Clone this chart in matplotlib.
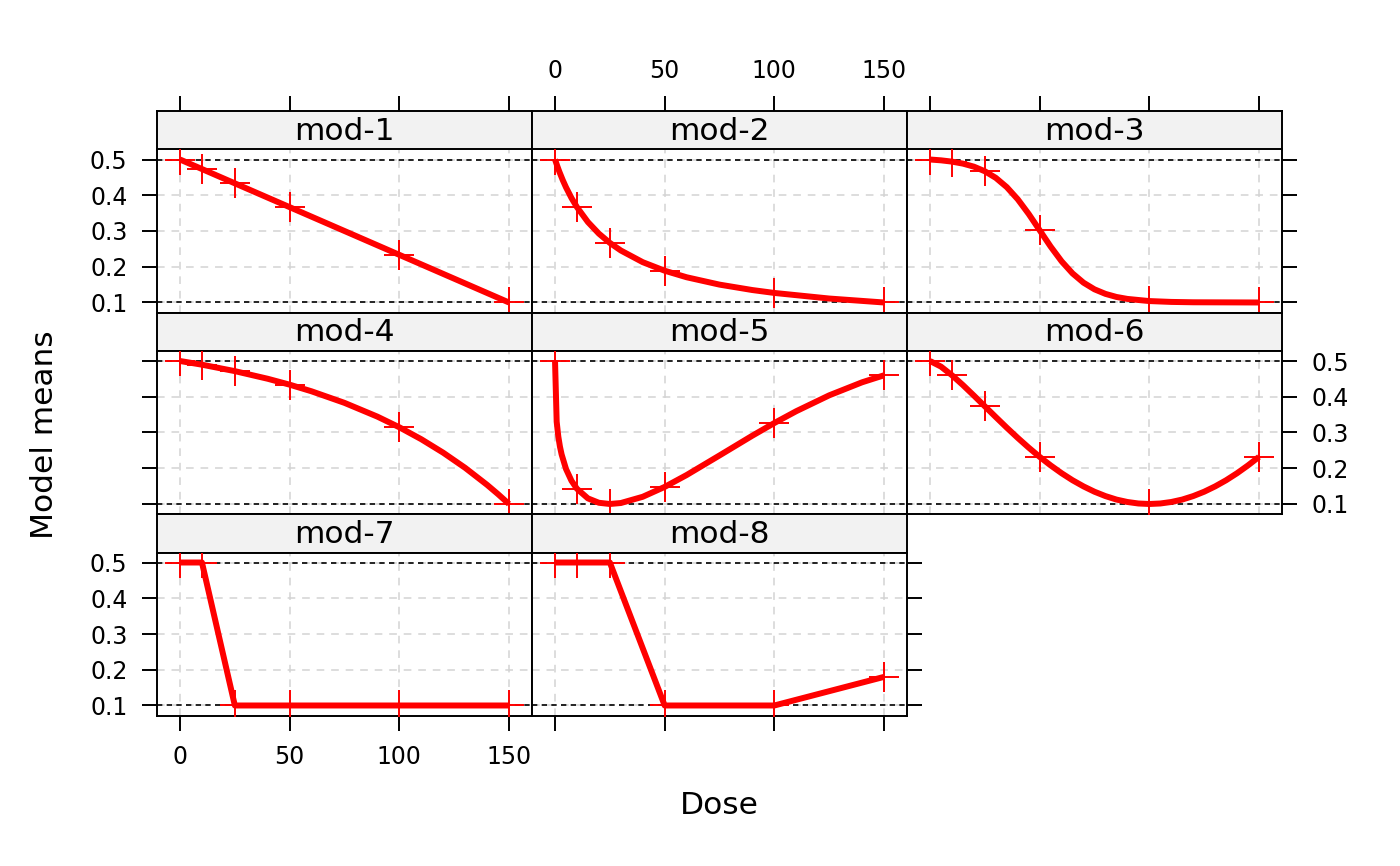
import numpy as np
import matplotlib
matplotlib.use('Agg')
import matplotlib.pyplot as plt

# doses used in the study (marker positions)
doses = [0, 10, 25, 50, 100, 150]

# model means at the study doses
means_mod1 = [0.5, 0.4733, 0.4333, 0.3667, 0.2333, 0.1]
means_mod2 = [0.5, 0.3667, 0.2667, 0.1889, 0.1267, 0.1]
means_mod3 = [0.5, 0.4941, 0.4671, 0.302, 0.104, 0.1]
means_mod4 = [0.5, 0.4897, 0.4717, 0.4338, 0.3146, 0.1]
means_mod5 = [0.5, 0.1425, 0.1, 0.1478, 0.3265, 0.46]
means_mod6 = [0.5, 0.4602, 0.3732, 0.2318, 0.1, 0.2318]
means_mod7 = [0.5, 0.5, 0.1, 0.1, 0.1, 0.1]
means_mod8 = [0.5, 0.5, 0.5, 0.1, 0.1, 0.18]

# the drawn curves, read at more doses
curve_dose_mod1 = [0, 150]
curve_mean_mod1 = [0.5, 0.1]
curve_dose_mod2 = [0, 1, 2, 3.5, 5, 7.5, 10, 15, 20, 25, 30, 40, 50, 60, 75, 90, 100, 125, 150]
curve_mean_mod2 = [0.5, 0.4821, 0.4654, 0.4427, 0.4222, 0.3923, 0.3667, 0.325, 0.2926, 0.2667,
                   0.2455, 0.2128, 0.1889, 0.1706, 0.15, 0.1348, 0.1267, 0.1111, 0.1]
curve_dose_mod3 = [0, 5, 10, 15, 20, 25, 30, 35, 40, 45, 50, 55, 60, 65, 70, 75, 80, 85, 90,
                   100, 110, 120, 150]
curve_mean_mod3 = [0.5, 0.4977, 0.4941, 0.4885, 0.48, 0.4671, 0.4486, 0.4227, 0.3888, 0.3476,
                   0.302, 0.2564, 0.2152, 0.1813, 0.1554, 0.1368, 0.1241, 0.1155, 0.11,
                   0.104, 0.1016, 0.1006, 0.1]
curve_dose_mod4 = [0, 10, 25, 40, 50, 60, 75, 90, 100, 110, 120, 130, 140, 145, 150]
curve_mean_mod4 = [0.5, 0.4897, 0.4717, 0.4503, 0.4338, 0.4152, 0.3829, 0.3444, 0.3146, 0.2812,
                   0.2435, 0.2012, 0.1536, 0.1276, 0.1]
curve_dose_mod5 = [0, 0.75, 1.5, 2.25, 3, 5, 7.5, 10, 15, 20, 25, 30, 40, 50, 60, 75, 90, 100,
                   110, 125, 140, 150]
curve_mean_mod5 = [0.5, 0.3303, 0.2885, 0.2603, 0.2388, 0.198, 0.165, 0.1425, 0.1157, 0.1034, 0.1,
                   0.1027, 0.1202, 0.1478, 0.181, 0.2358, 0.2912, 0.3265, 0.3596, 0.4039, 0.4404, 0.46]
curve_dose_mod6 = [0, 5, 10, 15, 20, 25, 30, 35, 40, 45, 50, 55, 60, 65, 70, 75, 80, 85, 90, 95,
                   100, 105, 110, 115, 120, 125, 130, 135, 140, 145, 150]
curve_mean_mod6 = [0.5, 0.4843, 0.4602, 0.4327, 0.4033, 0.3732, 0.3431, 0.3135, 0.2849, 0.2576,
                   0.2318, 0.208, 0.1861, 0.1664, 0.1492, 0.1343, 0.1221, 0.1124, 0.1056, 0.1014,
                   0.1, 0.1014, 0.1056, 0.1124, 0.1221, 0.1343, 0.1492, 0.1664, 0.1861, 0.208, 0.2318]
curve_dose_mod7 = doses
curve_mean_mod7 = means_mod7
curve_dose_mod8 = doses
curve_mean_mod8 = means_mod8

model_names = ['mod-1', 'mod-2', 'mod-3', 'mod-4', 'mod-5', 'mod-6', 'mod-7', 'mod-8']
marker_means = [means_mod1, means_mod2, means_mod3, means_mod4,
                means_mod5, means_mod6, means_mod7, means_mod8]
curve_doses = [curve_dose_mod1, curve_dose_mod2, curve_dose_mod3, curve_dose_mod4,
               curve_dose_mod5, curve_dose_mod6, curve_dose_mod7, curve_dose_mod8]
curve_means = [curve_mean_mod1, curve_mean_mod2, curve_mean_mod3, curve_mean_mod4,
               curve_mean_mod5, curve_mean_mod6, curve_mean_mod7, curve_mean_mod8]

# placebo and placebo + max effect
ref_levels = [0.1, 0.5]
x_ticks = [0, 50, 100, 150]
y_ticks = [0.1, 0.2, 0.3, 0.4, 0.5]
y_ticklabels = ['0.1', '0.2', '0.3', '0.4', '0.5']

W, H = 1400, 866
fig = plt.figure(figsize=(14, 8.66), dpi=100)

col_left = [157, 532, 907]
panel_w = 375
strip_top = [111, 312.5, 514]
strip_h = 38.5
panel_h = 163
tick_fs = 17
lab_fs = 22.5
frame_lw = 1.4

def px_axes(x, y_top, w, h):
    return fig.add_axes([x / W, 1 - (y_top + h) / H, w / W, h / H])

for i, name in enumerate(model_names):
    row, col = i // 3, i % 3
    x0 = col_left[col]
    # strip
    sax = px_axes(x0, strip_top[row], panel_w, strip_h)
    sax.set_facecolor('#f2f2f2')
    sax.set_xlim(-10.5, 160.5)
    sax.set_ylim(0, 1)
    sax.text(0.5, 0.47, name, transform=sax.transAxes, ha='center', va='center', fontsize=lab_fs)
    sax.set_yticks([])
    sax.set_xticks(x_ticks)
    sax.tick_params(axis='x', bottom=False, labelbottom=False, top=(row == 0),
                    labeltop=(row == 0 and col == 1), direction='out', length=10.8,
                    width=frame_lw, pad=9.5, labelsize=tick_fs)
    for s in sax.spines.values():
        s.set_linewidth(frame_lw)

    # panel
    ax = px_axes(x0, strip_top[row] + strip_h, panel_w, panel_h)
    ax.set_xlim(-10.5, 160.5)
    ax.set_ylim(0.072, 0.528)
    ax.set_xticks(x_ticks)
    ax.set_yticks(y_ticks)
    ax.set_yticklabels(y_ticklabels)
    ax.grid(True, color='#d3d3d3', lw=1.1, ls=(0, (5, 4.5)))
    ax.set_axisbelow(True)
    for lev in ref_levels:
        ax.axhline(lev, color='black', lw=1.2, ls=(0, (3.2, 2.6)), zorder=1.5)
    ax.plot(curve_doses[i], curve_means[i], color='red', lw=4.3, solid_capstyle='butt',
            solid_joinstyle='round', zorder=2)
    ax.plot(doses, marker_means[i], ls='none', marker='+', ms=21, mew=1.4, color='red', zorder=3)

    last_in_row = (col == 2) or (i == len(model_names) - 1)
    bottom_in_col = (row == 2)
    ax.tick_params(axis='y', left=(col == 0), labelleft=(col == 0 and row != 1),
                   right=last_in_row, labelright=(last_in_row and row == 1),
                   direction='out', length=10.8, width=frame_lw, pad=10.5, labelsize=tick_fs)
    ax.tick_params(axis='x', top=False, labeltop=False, bottom=bottom_in_col,
                   labelbottom=(bottom_in_col and col == 0),
                   direction='out', length=10.8, width=frame_lw, pad=10.5, labelsize=tick_fs)
    for s in ax.spines.values():
        s.set_linewidth(frame_lw)

fig.text(719.5 / W, 1 - 805 / H, 'Dose', ha='center', va='center', fontsize=lab_fs)
fig.text(45 / W, 1 - 435 / H, 'Model means', ha='center', va='center', rotation=90, fontsize=lab_fs)

plt.savefig('out.png', dpi=100)
